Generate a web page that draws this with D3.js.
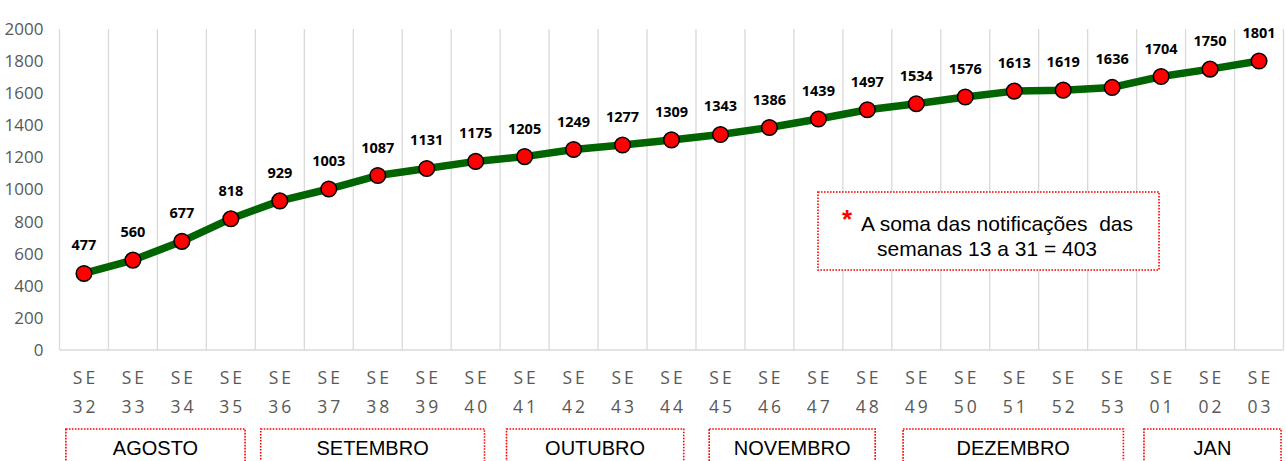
<!DOCTYPE html>
<html>
<head>
<meta charset="utf-8">
<script src="https://cdn.jsdelivr.net/npm/d3@7"></script>
<style>
  body { margin: 0; background: #fff; }
  svg { display: block; }
</style>
</head>
<body>
<div id="chart"></div>
<script>
// semanas epidemiologicas (SE32 .. SE53, SE01 .. SE03)
var weeks = ["32","33","34","35","36","37","38","39","40","41","42","43","44",
             "45","46","47","48","49","50","51","52","53","01","02","03"];
var cases = [477, 560, 677, 818, 929, 1003, 1087, 1131, 1175, 1205, 1249, 1277,
             1309, 1343, 1386, 1439, 1497, 1534, 1576, 1613, 1619, 1636, 1704, 1750, 1801];
var yTicks = [0, 200, 400, 600, 800, 1000, 1200, 1400, 1600, 1800, 2000];
var months = ["AGOSTO", "SETEMBRO", "OUTUBRO", "NOVEMBRO", "DEZEMBRO", "JAN"];
var noteLines = ["A soma das notificações  das", "semanas 13 a 31 = 403"];

init();

function init() {
    var w = 1286, h = 461;
    var left = 59.5, right = 1283.5, top = 29, bottom = 350;

    var svg = d3.select("#chart").append("svg")
        .attr("width", w).attr("height", h);

    var xScale = d3.scaleBand()
        .domain(weeks)
        .range([left, right]);

    var yScale = d3.scaleLinear()
        .domain([0, 2000])
        .range([bottom, top]);

    var bw = xScale.bandwidth();

    // vertical grid
    svg.append("g").selectAll("line")
        .data(d3.range(weeks.length + 1))
        .enter().append("line")
        .attr("x1", function (d) { return left + d * bw; })
        .attr("x2", function (d) { return left + d * bw; })
        .attr("y1", top).attr("y2", bottom)
        .attr("stroke", "#d9d9d9").attr("stroke-width", 1.3);

    svg.append("line")
        .attr("x1", left).attr("x2", right)
        .attr("y1", bottom).attr("y2", bottom)
        .attr("stroke", "#d9d9d9").attr("stroke-width", 1.3);

    // y axis labels
    var yAxis = d3.axisLeft(yScale).tickValues(yTicks)
        .tickFormat(d3.format("d")).tickSize(0).tickPadding(16);
    var ya = svg.append("g")
        .attr("transform", "translate(" + left + ",0)")
        .call(yAxis);
    ya.select(".domain").remove();
    ya.selectAll("text")
        .attr("fill", "#595959")
        .style("font-family", "'Open Sans', sans-serif")
        .style("font-size", "17px");

    // x axis labels (two lines)
    var xa = svg.append("g").selectAll("text")
        .data(weeks)
        .enter().append("text")
        .attr("text-anchor", "middle")
        .attr("fill", "#595959")
        .style("font-family", "'Open Sans', sans-serif")
        .style("font-size", "17.5px")
        .style("letter-spacing", "3px");
    xa.append("tspan")
        .attr("x", function (d) { return xScale(d) + bw / 2 + 1.5; })
        .attr("y", 384)
        .text("SE");
    xa.append("tspan")
        .attr("x", function (d) { return xScale(d) + bw / 2 + 1.5; })
        .attr("y", 413)
        .text(function (d) { return d; });

    // line
    var line = d3.line()
        .x(function (d, i) { return xScale(weeks[i]) + bw / 2; })
        .y(function (d) { return yScale(d); });

    svg.append("path")
        .datum(cases)
        .attr("d", line)
        .attr("fill", "none")
        .attr("stroke", "#006400")
        .attr("stroke-width", 7.5)
        .attr("stroke-linejoin", "round");

    svg.append("g").selectAll("circle")
        .data(cases)
        .enter().append("circle")
        .attr("cx", function (d, i) { return xScale(weeks[i]) + bw / 2; })
        .attr("cy", function (d) { return yScale(d); })
        .attr("r", 7.8)
        .attr("fill", "#ff0000")
        .attr("stroke", "#000")
        .attr("stroke-width", 1.5);

    svg.append("g").selectAll("text")
        .data(cases)
        .enter().append("text")
        .attr("x", function (d, i) { return xScale(weeks[i]) + bw / 2; })
        .attr("y", function (d) { return yScale(d) - 23; })
        .attr("text-anchor", "middle")
        .style("font-family", "'Open Sans', sans-serif")
        .style("font-weight", "bold")
        .style("font-size", "14.5px")
        .attr("fill", "#000")
        .text(function (d) { return d; });

    // note box
    var note = svg.append("g");
    note.append("rect")
        .attr("x", 818).attr("y", 192)
        .attr("width", 341).attr("height", 78)
        .attr("fill", "#fff")
        .attr("stroke", "#ff0000").attr("stroke-width", 1.6)
        .attr("stroke-dasharray", "1.6,1.4");
    note.append("text")
        .attr("x", 847).attr("y", 228)
        .attr("text-anchor", "middle")
        .attr("fill", "#ff0000")
        .style("font-family", "'Liberation Sans', Arial, sans-serif")
        .style("font-weight", "bold")
        .style("font-size", "26px")
        .text("*");
    note.selectAll("text.l")
        .data(noteLines)
        .enter().append("text")
        .attr("class", "l")
        .attr("x", function (d, i) { return i == 0 ? 997 : 987; })
        .attr("y", function (d, i) { return 231 + i * 25; })
        .attr("text-anchor", "middle")
        .attr("fill", "#000")
        .style("font-family", "'Liberation Sans', Arial, sans-serif")
        .style("font-size", "21px")
        .attr("xml:space", "preserve")
        .style("white-space", "pre")
        .text(function (d) { return d; });

    // month boxes (extents in band units, hand-placed as in the original)
    var monthBox = [[0.13, 3.79], [4.11, 8.68], [9.13, 12.75],
                    [13.27, 16.66], [17.23, 21.73], [22.15, 24.95]];
    var mg = svg.append("g").selectAll("g")
        .data(months)
        .enter().append("g");
    mg.append("rect")
        .attr("x", function (d, i) { return left + monthBox[i][0] * bw; })
        .attr("y", 429)
        .attr("width", function (d, i) { return (monthBox[i][1] - monthBox[i][0]) * bw; })
        .attr("height", 60)
        .attr("fill", "none")
        .attr("stroke", "#ff0000").attr("stroke-width", 1.6)
        .attr("stroke-dasharray", "1.6,1.4");
    mg.append("text")
        .attr("x", function (d, i) { return left + (monthBox[i][0] + monthBox[i][1]) / 2 * bw; })
        .attr("y", 455)
        .attr("text-anchor", "middle")
        .attr("fill", "#000")
        .style("font-family", "'Liberation Sans', Arial, sans-serif")
        .style("font-size", "20px")
        .text(function (d) { return d; });
}
</script>
</body>
</html>
